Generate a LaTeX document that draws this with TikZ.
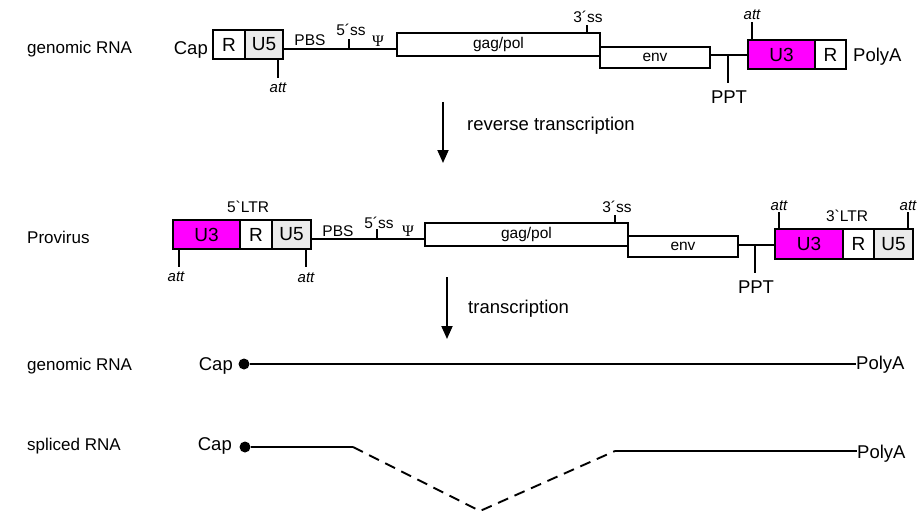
\documentclass[tikz,border=0pt]{standalone}
\usepackage{fontspec}
\newfontfamily\arialf{Liberation Sans}
\newfontfamily\psif{Liberation Serif}
\usetikzlibrary{arrows.meta}
\definecolor{mag}{RGB}{255,0,255}
\definecolor{ltgray}{RGB}{235,235,235}
\begin{document}
\begin{tikzpicture}[x=1pt,y=-1pt,
  ln/.style={line width=1.9pt},
  box/.style={draw,line width=1.9pt,inner sep=0pt,outer sep=0pt,fill=white,font=\arialf\fontsize{19}{21}\selectfont},
  sbox/.style={box,font=\arialf\fontsize{15.5}{18}\selectfont},
  side/.style={font=\arialf\fontsize{17}{20}\selectfont,anchor=base west,inner sep=0pt},
  big/.style={font=\arialf\fontsize{18.5}{22}\selectfont,anchor=base,inner sep=0pt},
  small/.style={font=\arialf\fontsize{15.5}{18}\selectfont,anchor=base,inner sep=0pt},
  attl/.style={font=\arialf\itshape\fontsize{15}{17}\selectfont,anchor=base,inner sep=0pt},
  psil/.style={font=\psif\fontsize{16}{18}\selectfont,anchor=base,inner sep=0pt},
  arr/.style={line width=1.9pt,-{Triangle[length=13pt,width=11pt]}},
  dot/.style={circle,fill=black,minimum size=11pt,inner sep=0pt,outer sep=0pt},
]
\useasboundingbox (0,0) rectangle (919,511);

% ---------- Row 1: genomic RNA ----------
\node[side] (lg1) at (27,53.3) {genomic RNA};
\node[big,anchor=base east] (cap1) at (208,55) {Cap};
\node[box,minimum width=32pt,minimum height=29pt] (r1) at (229,44.5) {R};
\node[box,fill=ltgray,minimum width=38pt,minimum height=29pt] (u51) at (264,44.5) {U5};
\node[sbox,minimum width=203pt,minimum height=23pt] (gag1) at (498.5,44.5) {gag/pol};
\node[sbox,minimum width=110pt,minimum height=21pt] (env1) at (655,57.5) {env};
\node[box,fill=mag,minimum width=67pt,minimum height=29pt] (u31) at (781.5,54.5) {U3};
\node[box,minimum width=31pt,minimum height=29pt] (r1b) at (830.5,54.5) {R};
\node[big,anchor=base west] (pa1) at (853,61.7) {PolyA};

\coordinate (ya) at (0,49);
\coordinate (yb) at (0,55);
\draw[ln] (u51.east |- ya) -- (gag1.west |- ya);
\draw[ln] (env1.east |- yb) -- (u31.west |- yb);

\coordinate (t51) at (349,49);
\draw[ln] (t51) -- ++(0,-10);
\coordinate (t31) at (587,33);
\draw[ln] (t31) -- ++(0,-8);
\draw[ln] ([xshift=-5pt]u51.south east) -- ++(0,19);
\coordinate (pp1) at (728,55);
\draw[ln] (pp1) -- ++(0,28);
\draw[ln] ([xshift=4pt]u31.north west) -- ++(0,-18);

\node[small] (pbs1) at (310,46) {PBS};
\node[small] (ss51) at (351,36) {5´ss};
\node[psil] (psi1) at (378,46.7) {Ψ};
\node[small] (ss31) at (588,22.7) {3´ss};
\node[attl] (att1) at (278,92.7) {att};
\node[attl] (att2) at (752,20) {att};
\node[big] (ppt1) at (729,103) {PPT};

% ---------- arrow 1 ----------
\coordinate (a1s) at (443,102);
\coordinate (a1e) at (443,163);
\draw[arr] (a1s) -- (a1e);
\node[big,anchor=base west] (rt) at (467,130) {reverse transcription};

% ---------- Row 2: Provirus ----------
\node[side] (lpv) at (27,243) {Provirus};
\node[box,fill=mag,minimum width=67pt,minimum height=29pt] (u32) at (206.5,234.5) {U3};
\node[box,minimum width=32pt,minimum height=29pt] (r2) at (256,234.5) {R};
\node[box,fill=ltgray,minimum width=39pt,minimum height=29pt] (u52) at (291.5,234.5) {U5};
\node[sbox,minimum width=203pt,minimum height=23pt] (gag2) at (526.5,234.5) {gag/pol};
\node[sbox,minimum width=110pt,minimum height=21pt] (env2) at (683,246.5) {env};
\node[box,fill=mag,minimum width=68pt,minimum height=30pt] (u33) at (809,244) {U3};
\node[box,minimum width=31pt,minimum height=30pt] (r3) at (858.5,244) {R};
\node[box,fill=ltgray,minimum width=39pt,minimum height=30pt] (u53) at (893.5,244) {U5};

\coordinate (yc) at (0,239);
\coordinate (yd) at (0,245);
\draw[ln] (u52.east |- yc) -- (gag2.west |- yc);
\draw[ln] (env2.east |- yd) -- (u33.west |- yd);

\coordinate (t52) at (377,239);
\draw[ln] (t52) -- ++(0,-10);
\coordinate (t32) at (615,223);
\draw[ln] (t32) -- ++(0,-8);
\draw[ln] ([xshift=6pt]u32.south west) -- ++(0,18);
\draw[ln] ([xshift=-5pt]u52.south east) -- ++(0,18);
\coordinate (pp2) at (755,245);
\draw[ln] (pp2) -- ++(0,28);
\draw[ln] ([xshift=4pt]u33.north west) -- ++(0,-17);
\draw[ln] ([xshift=-5pt]u53.north east) -- ++(0,-17);

\node[small] (ltr5) at (248,212.7) {5{\char"60}LTR};
\node[small] (pbs2) at (338,236) {PBS};
\node[small] (ss52) at (379,228) {5´ss};
\node[psil] (psi2) at (408,236) {Ψ};
\node[small] (ss32) at (617,212.7) {3´ss};
\node[attl] (att3) at (176,281.7) {att};
\node[attl] (att4) at (306,282.5) {att};
\node[attl] (att5) at (779,210) {att};
\node[attl] (att6) at (908,210) {att};
\node[small] (ltr3) at (847,221.7) {3{\char"60}LTR};
\node[big] (ppt2) at (756,293.3) {PPT};

% ---------- arrow 2 ----------
\coordinate (a2s) at (447,277);
\coordinate (a2e) at (447,339);
\draw[arr] (a2s) -- (a2e);
\node[big,anchor=base west] (tr) at (468,313.3) {transcription};

% ---------- Row 3: genomic RNA ----------
\node[side] (lg3) at (27,370) {genomic RNA};
\node[big,anchor=base east] (cap3) at (233,370.7) {Cap};
\node[dot] (d3) at (244,364) {};
\node[big,anchor=base west] (pa3) at (856,369.3) {PolyA};
\draw[ln] (d3) -- (d3 -| pa3.west);

% ---------- Row 4: spliced RNA ----------
\node[side] (ls4) at (27,450) {spliced RNA};
\node[big,anchor=base east] (cap4) at (232,450.7) {Cap};
\node[dot] (d4) at (245,447) {};
\node[big,anchor=base west] (pa4) at (857,458) {PolyA};
\coordinate (k1) at (353,447);
\coordinate (k2) at (480,511);
\coordinate (k3) at (615,451);
\draw[ln] (d4) -- (k1);
\draw[ln,dash pattern=on 11pt off 7pt] (k1) -- (k2) -- (k3);
\draw[ln] (k3) -- (k3 -| pa4.west);
\end{tikzpicture}
\end{document}
